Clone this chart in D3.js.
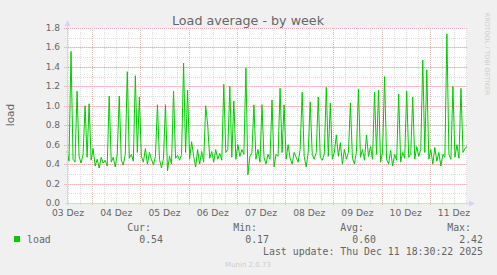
<!DOCTYPE html>
<html>
<head>
<meta charset="utf-8">
<script src="https://cdn.jsdelivr.net/npm/d3@7"></script>
<style>
  body { margin: 0; background: #F0F0F0; }
  svg { display: block; }
</style>
</head>
<body>
<svg width="497" height="275"></svg>
<script>
// hourly load average, Dec 3 11:30 -> Dec 11 18:30
const loadValues = [
  0.53, 0.43, 1.56, 0.45, 0.42, 1.15, 0.48, 0.41, 0.50, 1.00,
  0.47, 1.02, 0.44, 0.56, 0.38, 0.45, 0.36, 0.47, 0.41, 0.44,
  0.38, 1.10, 0.42, 0.47, 0.37, 0.50, 1.10, 0.44, 0.39, 0.50,
  1.35, 0.46, 0.50, 0.43, 1.31, 0.52, 1.09, 0.48, 0.42, 0.56,
  0.40, 0.52, 0.45, 0.39, 0.48, 1.01, 0.45, 0.36, 0.46, 1.01,
  0.33, 0.48, 0.40, 1.15, 0.46, 0.49, 0.44, 0.50, 1.44, 0.52,
  1.16, 0.45, 0.63, 0.48, 0.37, 0.55, 0.40, 0.53, 0.42, 1.00,
  0.80, 0.46, 0.53, 0.42, 0.55, 0.45, 0.51, 0.44, 1.22, 0.52,
  0.55, 1.20, 0.47, 1.05, 0.45, 0.60, 0.48, 0.55, 0.50, 1.39,
  0.29, 0.48, 0.52, 1.01, 0.45, 0.55, 0.42, 1.01, 0.47, 0.40,
  0.50, 0.45, 1.06, 0.37, 0.50, 0.48, 1.18, 0.52, 1.01, 0.45,
  0.60, 0.46, 0.40, 0.52, 0.47, 0.42, 0.55, 1.14, 0.48, 0.37,
  0.52, 1.04, 0.50, 0.45, 0.52, 1.09, 0.47, 0.44, 0.50, 1.19,
  0.48, 1.03, 0.45, 0.52, 0.70, 0.48, 0.62, 0.40, 0.55, 0.45,
  0.52, 1.03, 0.46, 0.40, 0.53, 1.17, 0.47, 0.55, 0.44, 0.70,
  0.48, 0.58, 0.45, 1.14, 0.50, 1.16, 0.42, 0.52, 1.30, 0.45,
  0.40, 0.54, 0.38, 0.50, 0.44, 1.12, 0.42, 0.52, 0.46, 1.15,
  0.47, 0.50, 1.09, 0.45, 0.58, 0.48, 0.55, 1.47, 0.52, 1.37,
  0.45, 0.55, 0.40, 0.57, 0.43, 0.52, 0.38, 0.50, 0.47, 1.74,
  0.50, 0.45, 1.20, 0.47, 0.60, 0.46, 1.18, 0.52, 0.56, 0.58
];
const xTickLabels = ["03 Dez", "04 Dez", "05 Dez", "06 Dez", "07 Dez", "08 Dez", "09 Dez", "10 Dez", "11 Dez"];
const yTicks = [0, 0.2, 0.4, 0.6, 0.8, 1.0, 1.2, 1.4, 1.6, 1.8];
const legendHeads = ["Cur:", "Min:", "Avg:", "Max:"];
const legendValues = ["0.54", "0.17", "0.60", "2.42"];

const start = new Date(2025, 11, 3, 11, 30);
const data = loadValues.map((v, i) => ({ t: d3.timeHour.offset(start, i), v: v }));
const end = data[data.length - 1].t;

const svg = d3.select('svg');
const L = 67, R = 467, T = 28, B = 203;

const x = d3.scaleTime().domain([start, end]).range([L, R]);
const y = d3.scaleLinear().domain([0, 1.8]).range([B, T]);

svg.append('rect').attr('width', 497).attr('height', 275).attr('fill', '#F0F0F0');
svg.append('rect').attr('x', L).attr('y', T).attr('width', R - L).attr('height', B - T).attr('fill', '#FFFFFF');

// grid
const minorX = d3.timeHour.every(6).range(start, end);
const majorX = d3.timeDay.range(start, end);
const minorY = d3.range(1, 18).map(d => d / 10);
const minorCol = '#DCDCDC', majorCol = '#F0B4B4';

svg.append('g').selectAll('line').data(minorX).join('line')
    .attr('x1', d => Math.round(x(d)) + 0.5).attr('x2', d => Math.round(x(d)) + 0.5)
    .attr('y1', T).attr('y2', B + 2)
    .attr('stroke', minorCol).attr('stroke-dasharray', '1,1');
svg.append('g').selectAll('line').data(minorY).join('line')
    .attr('y1', d => Math.round(y(d)) + 0.5).attr('y2', d => Math.round(y(d)) + 0.5)
    .attr('x1', L - 2).attr('x2', R)
    .attr('stroke', minorCol).attr('stroke-dasharray', '1,1');
svg.append('g').selectAll('line').data(majorX).join('line')
    .attr('x1', d => Math.round(x(d)) + 0.5).attr('x2', d => Math.round(x(d)) + 0.5)
    .attr('y1', T).attr('y2', B + 3)
    .attr('stroke', majorCol).attr('stroke-dasharray', '1,1');
svg.append('g').selectAll('line').data(yTicks.slice(1)).join('line')
    .attr('y1', d => Math.round(y(d)) + 0.5).attr('y2', d => Math.round(y(d)) + 0.5)
    .attr('x1', L - 3).attr('x2', R + 1)
    .attr('stroke', majorCol).attr('stroke-dasharray', '1,1');

// data line
svg.append('path').datum(data)
    .attr('d', d3.line().x(d => x(d.t)).y(d => y(d.v)))
    .attr('fill', 'none').attr('stroke', '#00CC00').attr('stroke-width', 1);

// axes with arrows
const axisCol = '#CFD6F8';
svg.append('line').attr('x1', L + 0.5).attr('x2', L + 0.5).attr('y1', B + 2).attr('y2', 22).attr('stroke', axisCol);
svg.append('line').attr('x1', L - 2).attr('x2', R + 4).attr('y1', B + 0.5).attr('y2', B + 0.5).attr('stroke', axisCol);
svg.append('path').attr('d', `M${L - 2.5},26 L${L + 0.5},20 L${L + 3.5},26 Z`).attr('fill', axisCol);
svg.append('path').attr('d', `M${R + 2},${B - 2.5} L${R + 8},${B + 0.5} L${R + 2},${B + 3.5} Z`).attr('fill', axisCol);

// tick labels
const font = 'DejaVu Sans, sans-serif';
svg.append('g').selectAll('text').data(yTicks).join('text')
    .attr('x', 60).attr('y', d => y(d) + 3)
    .attr('text-anchor', 'end').attr('font-family', font).attr('font-size', 9)
    .attr('fill', '#666666').text(d => d.toFixed(1));

const labelTimes = d3.timeDay.range(d3.timeDay.floor(start), end).map(d => d3.timeHour.offset(d, 12));
svg.append('g').selectAll('text').data(labelTimes).join('text')
    .attr('x', d => x(d)).attr('y', 215.5)
    .attr('text-anchor', 'middle').attr('font-family', font).attr('font-size', 9.2)
    .attr('fill', '#666666').text((d, i) => xTickLabels[i]);

// titles
svg.append('text').attr('x', 248).attr('y', 24.5).attr('text-anchor', 'middle')
    .attr('font-family', font).attr('font-size', 12.7).attr('fill', '#666666')
    .text('Load average - by week');
svg.append('text').attr('transform', 'translate(14,115) rotate(-90)').attr('text-anchor', 'middle')
    .attr('font-family', font).attr('font-size', 10.5).attr('fill', '#666666').text('load');
svg.append('text').attr('transform', 'translate(485,54) rotate(90)').attr('text-anchor', 'middle')
    .attr('font-family', font).attr('font-size', 6.4).attr('fill', '#CCCCCC').text('RRDTOOL / TOBI OETIKER');

// legend
const mono = 'DejaVu Sans Mono, monospace';
svg.append('rect').attr('x', 14).attr('y', 236).attr('width', 6).attr('height', 6).attr('fill', '#00CC00');
svg.append('text').attr('x', 27).attr('y', 242.5).attr('font-family', mono).attr('font-size', 9.9)
    .attr('fill', '#666666').text('load');
const colEnds = [151, 257, 364, 471];
svg.append('g').selectAll('text').data(legendHeads).join('text')
    .attr('x', (d, i) => colEnds[i]).attr('y', 230.5).attr('text-anchor', 'end')
    .attr('font-family', mono).attr('font-size', 9.9).attr('fill', '#666666').text(d => d);
svg.append('g').selectAll('text').data(legendValues).join('text')
    .attr('x', (d, i) => colEnds[i] + 12).attr('y', 242.5).attr('text-anchor', 'end')
    .attr('font-family', mono).attr('font-size', 9.9).attr('fill', '#666666').text(d => d);
svg.append('text').attr('x', 483).attr('y', 255).attr('text-anchor', 'end')
    .attr('font-family', mono).attr('font-size', 9.9).attr('fill', '#666666')
    .text('Last update: Thu Dec 11 18:30:22 2025');
svg.append('text').attr('x', 248).attr('y', 266.5).attr('text-anchor', 'middle')
    .attr('font-family', font).attr('font-size', 7).attr('fill', '#CCCCCC').text('Munin 2.0.73');
</script>
</body>
</html>
